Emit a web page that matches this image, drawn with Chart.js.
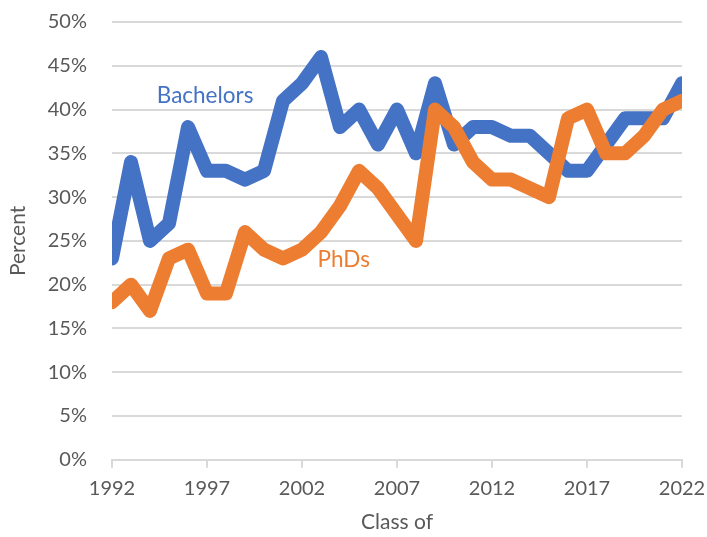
<!DOCTYPE html>
<html>
<head>
<meta charset="utf-8">
<script src="https://cdn.jsdelivr.net/npm/chart.js@4/dist/chart.umd.min.js"></script>
<style>
  html, body { margin: 0; padding: 0; background: #fff; }
  #wrap { width: 707px; height: 537px; }
</style>
</head>
<body>
<div id="wrap"><canvas id="chart"></canvas></div>
<script>
// values
const years = [1992,1993,1994,1995,1996,1997,1998,1999,2000,2001,2002,2003,2004,2005,2006,2007,
               2008,2009,2010,2011,2012,2013,2014,2015,2016,2017,2018,2019,2020,2021,2022];
const bachelors = [23,34,25,27,38,33,33,32,33,41,43,46,38,40,36,40,
                   35,43,36,38,38,37,37,35,33,33,36,39,39,39,43];
const phds = [18,20,17,23,24,19,19,26,24,23,24,26,29,33,31,28,
              25,40,38,34,32,32,31,30,39,40,35,35,37,40,41];
const xTicks = [1992,1997,2002,2007,2012,2017,2022];
const seriesLabels = [
  { text: 'Bachelors', x: 1996.9, y: 41.6, color: '#4472C4' },
  { text: 'PhDs', x: 2004.2, y: 22.8, color: '#ED7D31' }
];

const FONT = 'Lato, "Open Sans", sans-serif';
const GREY = '#595959';

const inlineLabels = {
  id: 'inlineLabels',
  afterDatasetsDraw(chart) {
    const { ctx, scales } = chart;
    ctx.save();
    ctx.font = '22.5px ' + FONT;
    ctx.textAlign = 'center';
    ctx.textBaseline = 'middle';
    seriesLabels.forEach(l => {
      ctx.fillStyle = l.color;
      ctx.fillText(l.text, scales.x.getPixelForValue(l.x), scales.y.getPixelForValue(l.y));
    });
    ctx.restore();
  }
};

const line = (label, vals, color, order) => ({
  label,
  order,
  data: years.map((y, i) => ({ x: y, y: vals[i] })),
  borderColor: color,
  backgroundColor: color,
  borderWidth: 14,
  borderJoinStyle: 'round',
  borderCapStyle: 'round',
  pointRadius: 0,
  tension: 0
});

new Chart(document.getElementById('chart'), {
  type: 'line',
  data: {
    datasets: [
      line('Bachelors', bachelors, '#4472C4', 2),
      line('PhDs', phds, '#ED7D31', 1)
    ]
  },
  options: {
    responsive: true,
    maintainAspectRatio: false,
    animation: false,
    layout: { padding: { top: 0, right: 0, left: 0, bottom: 2 }, autoPadding: false },
    plugins: { legend: { display: false }, tooltip: { enabled: false } },
    scales: {
      x: {
        type: 'linear',
        min: 1992,
        max: 2022,
        afterBuildTicks: s => { s.ticks = xTicks.map(v => ({ value: v })); },
        grid: { drawOnChartArea: false, drawTicks: true, tickLength: 8, color: '#d9d9d9', lineWidth: 2 },
        border: { color: '#d9d9d9', width: 2 },
        ticks: { color: GREY, font: { family: FONT, size: 20 }, padding: 9, maxRotation: 0,
                 callback: v => String(v) },
        title: { display: true, text: 'Class of', color: GREY, font: { family: FONT, size: 21 }, padding: { top: 0, bottom: 0 } },
        afterFit: s => { s.paddingLeft = 0; s.paddingRight = 25; }
      },
      y: {
        min: 0,
        max: 50,
        ticks: { stepSize: 5, color: GREY, font: { family: FONT, size: 20 }, padding: 2,
                 callback: v => v + '%' },
        grid: { color: '#d9d9d9', lineWidth: 2, drawTicks: true, tickLength: 23, tickColor: 'transparent' },
        border: { display: false },
        title: { display: true, text: 'Percent', color: GREY, font: { family: FONT, size: 21 }, padding: { top: 6, bottom: 4 } },
        afterFit: s => { s.width = 112; s.paddingTop = 22; s.paddingBottom = 0; }
      }
    }
  },
  plugins: [inlineLabels]
});
</script>
</body>
</html>
